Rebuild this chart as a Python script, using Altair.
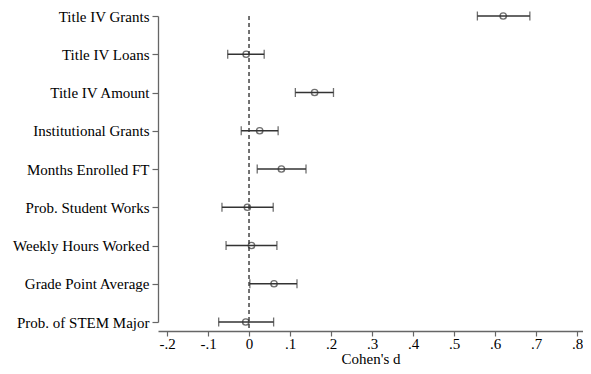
import altair as alt
import pandas as pd

variables = ["Title IV Grants", "Title IV Loans", "Title IV Amount", "Institutional Grants",
             "Months Enrolled FT", "Prob. Student Works", "Weekly Hours Worked",
             "Grade Point Average", "Prob. of STEM Major"]
estimate = [0.620, -0.007, 0.160, 0.026, 0.079, -0.004, 0.006, 0.061, -0.008]
ci_low = [0.557, -0.052, 0.113, -0.019, 0.020, -0.066, -0.056, 0.002, -0.074]
ci_high = [0.685, 0.037, 0.206, 0.071, 0.139, 0.059, 0.068, 0.117, 0.060]
x_ticks = [-0.2, -0.1, 0, 0.1, 0.2, 0.3, 0.4, 0.5, 0.6, 0.7, 0.8]

df = pd.DataFrame({"var": variables, "est": estimate, "lo": ci_low, "hi": ci_high})
caps = pd.DataFrame({"var": variables + variables, "v": ci_low + ci_high})
zero = pd.DataFrame({"x": [0.0]})

FONT = "Liberation Serif"
INK = "#333333"

xscale = alt.Scale(domain=[-0.222, 0.8146], nice=False, zero=False)
yscale = alt.Scale(type="point", range=[0, 306], padding=0)

label_expr = "datum.value == 0 ? '0' : (datum.value < 0 ? '-' : '') + '.' + format(round(abs(datum.value) * 10), 'd')"

xaxis = alt.Axis(values=x_ticks, labelExpr=label_expr, title="Cohen's d", grid=False,
                 tickSize=5, labelPadding=0, titlePadding=0)
yaxis = alt.Axis(title=None, grid=False, tickSize=6, labelPadding=3)

y_enc = alt.Y("var:N", sort=variables, scale=yscale, axis=yaxis)

ref = alt.Chart(zero).mark_rule(color="#444444", strokeDash=[4, 3], strokeWidth=1.5).encode(
    x=alt.X("x:Q", scale=xscale, axis=xaxis)
)

bars = alt.Chart(df).mark_rule(color=INK, strokeWidth=1.3).encode(
    x=alt.X("lo:Q", scale=xscale, axis=xaxis),
    x2="hi:Q",
    y=y_enc,
)

cap = alt.Chart(caps).mark_tick(color=INK, orient="vertical", size=9, thickness=1.3).encode(
    x=alt.X("v:Q", scale=xscale, axis=xaxis),
    y=y_enc,
)

pts = alt.Chart(df).mark_point(shape="circle", filled=False, color=INK, size=40, strokeWidth=1.4).encode(
    x=alt.X("est:Q", scale=xscale, axis=xaxis),
    y=y_enc,
)

chart = alt.layer(ref, bars, cap, pts).properties(
    width=425, height=315,
    autosize=alt.AutoSizeParams(type="none"),
    padding={"left": 150, "top": 8, "right": 0, "bottom": 35},
).configure_view(stroke=None).configure_axis(
    labelFont=FONT, titleFont=FONT, labelFontSize=15, titleFontSize=15,
    labelColor="black", titleColor="black", titleFontWeight="normal",
    domainColor="#666666", domainWidth=1.3, tickColor="#666666", tickWidth=1.2,
)

chart.save("out.html", embed_options={"renderer": "svg", "actions": False})
